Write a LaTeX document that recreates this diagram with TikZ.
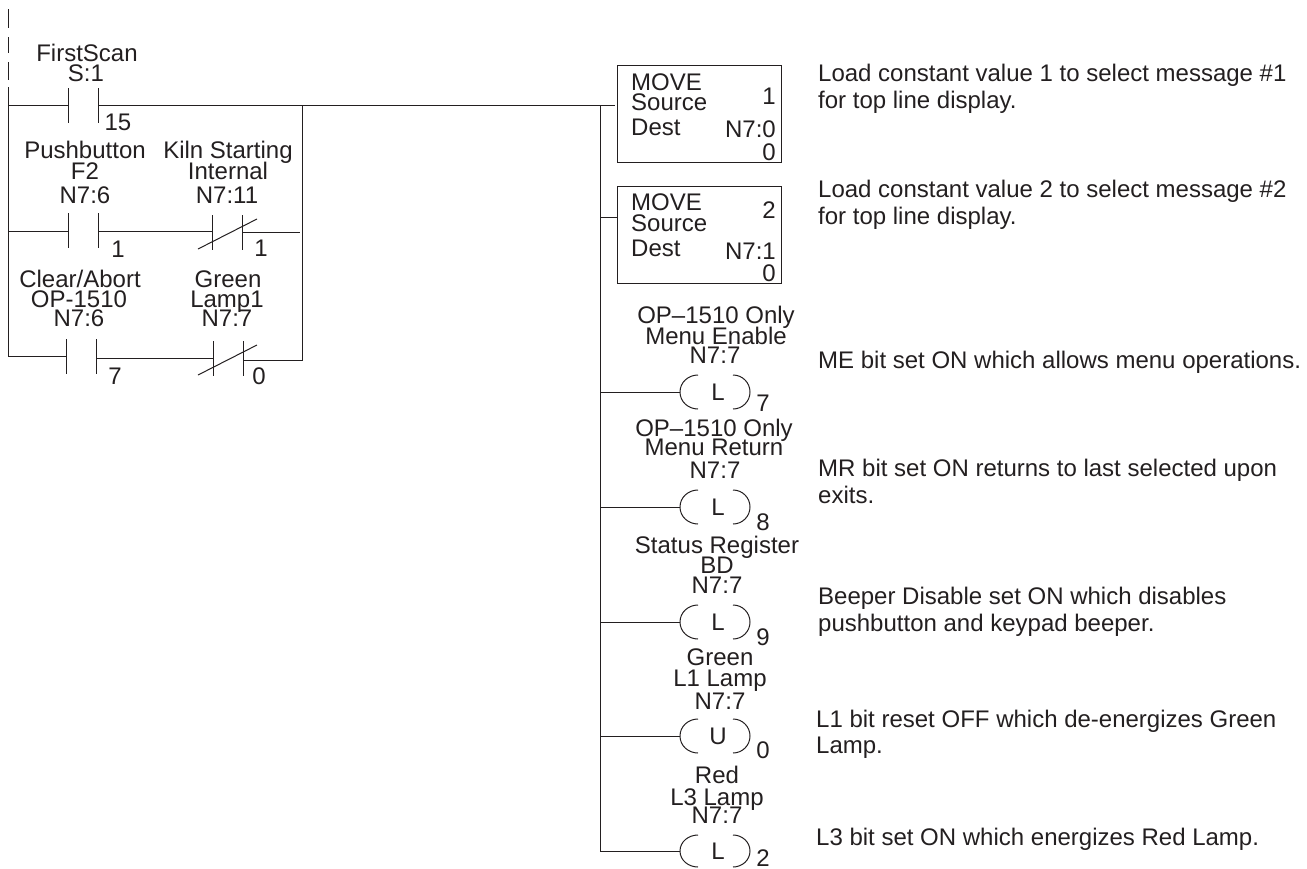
\documentclass[tikz,border=0pt]{standalone}
\usepackage{fontspec}
\setmainfont{Liberation Sans}
\definecolor{ink}{RGB}{35,31,32}
\begin{document}
\begin{tikzpicture}[
x=1pt,y=-1pt,
wire/.style={draw=ink,line width=1pt},
txt/.style={inner sep=0pt,text=ink,text height=17pt,text depth=0pt,font=\fontsize{24}{24}\selectfont},
note/.style={txt,anchor=west},
rightval/.style={txt,anchor=east},
movebox/.style={draw=ink,line width=1pt,minimum width=164.5pt,minimum height=97pt,inner sep=0pt}
]
\useasboundingbox (0,0) rectangle (1307,868);

% left rail
\coordinate (railA) at (8,9);
\coordinate (railB) at (8,28);
\coordinate (railC) at (8,37);
\coordinate (railD) at (8,53);
\coordinate (railE) at (8,62);
\coordinate (railF) at (8,80);
\coordinate (railG) at (8,87);

\path[wire] (railA) -- (railB);
\path[wire] (railC) -- (railD);
\path[wire] (railE) -- (railF);

% contacts
\coordinate (scanL) at (68,105);
\coordinate (scanR) at (98,105);
\coordinate (pushL) at (68,231);
\coordinate (pushR) at (98,231);
\coordinate (kilnL) at (212,232);
\coordinate (kilnR) at (242,232);
\coordinate (kilnEnd) at (300,232);
\coordinate (abortL) at (66,356);
\coordinate (abortR) at (96,358);
\coordinate (lampL) at (213,358);
\coordinate (lampR) at (243,360);
\coordinate (branch) at (302,105);
\coordinate (moveIn) at (615,105);
\coordinate (rail) at (600,105);

\path[wire] (railG) |- (scanL);
\path[wire] (railG) |- (pushL);
\path[wire] (railG) |- (abortL);
\path[wire] (scanR) -- (moveIn);
\path[wire] (pushR) -- (kilnL |- pushR);
\path[wire] (kilnR) -- (kilnEnd);
\path[wire] (abortR) -- (lampL);
\path[wire] (branch) |- (lampR);

\path[wire] (scanL) ++(0,-17) -- ++(0,35);
\path[wire] (scanR) ++(0,-17) -- ++(0,35);
\path[wire] (pushL) ++(0,-18) -- ++(0,35);
\path[wire] (pushR) ++(0,-18) -- ++(0,35);
\path[wire] (kilnL) ++(0,-17) -- ++(0,35);
\path[wire] (kilnR) ++(0,-17) -- ++(0,35);
\path[wire] (kilnL) ++(-14,17) -- ++(59,-30);
\path[wire] (abortL) ++(0,-17) -- ++(0,35);
\path[wire] (abortR) ++(0,-19) -- ++(0,35);
\path[wire] (lampL) ++(0,-17) -- ++(0,35);
\path[wire] (lampR) ++(0,-19) -- ++(0,35);
\path[wire] (lampL) ++(-15,17) -- ++(59,-30);

% contact labels
\node[txt] (scanA) at (87,53) {FirstScan};
\node[txt] (scanB) at (86,73) {S:1};
\node[txt] (scanC) at (118,122) {15};
\node[txt] (pushA) at (85,150) {Pushbutton};
\node[txt] (pushB) at (85,171) {F2};
\node[txt] (pushC) at (85,195) {N7:6};
\node[txt] (pushD) at (118,249) {1};
\node[txt] (kilnA) at (228,150) {Kiln Starting};
\node[txt] (kilnB) at (228,171) {Internal};
\node[txt] (kilnC) at (227,195) {N7:11};
\node[txt] (kilnD) at (261,248) {1};
\node[txt] (abortA) at (80,279) {Clear/Abort};
\node[txt] (abortB) at (79,299) {OP-1510};
\node[txt] (abortC) at (79,318) {N7:6};
\node[txt] (abortD) at (115,376) {7};
\node[txt] (lampA) at (228,279) {Green};
\node[txt] (lampB) at (227,299) {Lamp1};
\node[txt] (lampC) at (227,318) {N7:7};
\node[txt] (lampD) at (259,376) {0};

% move boxes
\node[movebox] (moveA) at (699.5,113.5) {};
\node[movebox] (moveB) at (699.5,234.5) {};
\coordinate (stubB) at (moveB.west |- 0,217);

\node[note] (moveAa) at (631,82) {MOVE};
\node[note] (moveAb) at (631,102) {Source};
\node[note] (moveAc) at (631,127) {Dest};
\node[rightval] (moveAd) at (776,96) {1};
\node[rightval] (moveAe) at (776,129) {N7:0};
\node[rightval] (moveAf) at (776,152) {0};
\node[note] (moveBa) at (631,202) {MOVE};
\node[note] (moveBb) at (631,223) {Source};
\node[note] (moveBc) at (631,248) {Dest};
\node[rightval] (moveBd) at (776,210) {2};
\node[rightval] (moveBe) at (776,251) {N7:1};
\node[rightval] (moveBf) at (776,273) {0};

% coils
\node[txt] (coilA) at (718,392) {L};
\node[txt] (coilB) at (718,507) {L};
\node[txt] (coilC) at (718,622) {L};
\node[txt] (coilD) at (718,736) {U};
\node[txt] (coilE) at (718,851) {L};
\coordinate (coilAw) at (680,392);
\coordinate (coilBw) at (680,507);
\coordinate (coilCw) at (680,622);
\coordinate (coilDw) at (680,736);
\coordinate (coilEw) at (680,851);

\path[wire] (rail) |- (stubB);
\path[wire] (rail) |- (coilAw);
\path[wire] (rail) |- (coilBw);
\path[wire] (rail) |- (coilCw);
\path[wire] (rail) |- (coilDw);
\path[wire] (rail) |- (coilEw);

\path[wire] (coilAw) ++(18,-17) to[out=180,in=90] ++(-18,17) to[out=-90,in=180] ++(18,17);
\path[wire] (coilAw) ++(53,-17) to[out=0,in=90] ++(17,17) to[out=-90,in=0] ++(-17,17);
\path[wire] (coilBw) ++(18,-17) to[out=180,in=90] ++(-18,17) to[out=-90,in=180] ++(18,17);
\path[wire] (coilBw) ++(53,-17) to[out=0,in=90] ++(17,17) to[out=-90,in=0] ++(-17,17);
\path[wire] (coilCw) ++(18,-17) to[out=180,in=90] ++(-18,17) to[out=-90,in=180] ++(18,17);
\path[wire] (coilCw) ++(53,-17) to[out=0,in=90] ++(17,17) to[out=-90,in=0] ++(-17,17);
\path[wire] (coilDw) ++(18,-17) to[out=180,in=90] ++(-18,17) to[out=-90,in=180] ++(18,17);
\path[wire] (coilDw) ++(53,-17) to[out=0,in=90] ++(17,17) to[out=-90,in=0] ++(-17,17);
\path[wire] (coilEw) ++(18,-16) to[out=180,in=90] ++(-18,16) to[out=-90,in=180] ++(18,16);
\path[wire] (coilEw) ++(53,-16) to[out=0,in=90] ++(17,16) to[out=-90,in=0] ++(-17,16);

% coil labels
\node[txt] (coilAa) at (716,315) {OP--1510 Only};
\node[txt] (coilAb) at (716,336) {Menu Enable};
\node[txt] (coilAc) at (715,355) {N7:7};
\node[txt] (coilAd) at (763,403) {7};
\node[txt] (coilBa) at (714,428) {OP--1510 Only};
\node[txt] (coilBb) at (714,447) {Menu Return};
\node[txt] (coilBc) at (715,470) {N7:7};
\node[txt] (coilBd) at (763,522) {8};
\node[txt] (coilCa) at (717,545) {Status Register};
\node[txt] (coilCb) at (717,565) {BD};
\node[txt] (coilCc) at (717,585) {N7:7};
\node[txt] (coilCd) at (763,637) {9};
\node[txt] (coilDa) at (720,657) {Green};
\node[txt] (coilDb) at (720,678) {L1 Lamp};
\node[txt] (coilDc) at (720,701) {N7:7};
\node[txt] (coilDd) at (763,750) {0};
\node[txt] (coilEa) at (717,775) {Red};
\node[txt] (coilEb) at (717,797) {L3 Lamp};
\node[txt] (coilEc) at (717,815) {N7:7};
\node[txt] (coilEd) at (763,857.5) {2};

% notes
\node[note] (noteAa) at (818,72.5) {Load constant value 1 to select message \#1};
\node[note] (noteAb) at (818,99.5) {for top line display.};
\node[note] (noteBa) at (818,188.5) {Load constant value 2 to select message \#2};
\node[note] (noteBb) at (818,215.5) {for top line display.};
\node[note] (noteC) at (818,359.5) {ME bit set ON which allows menu operations.};
\node[note] (noteDa) at (818,467.5) {MR bit set ON returns to last selected upon};
\node[note] (noteDb) at (818,494.5) {exits.};
\node[note] (noteEa) at (818,595.5) {Beeper Disable set ON which disables};
\node[note] (noteEb) at (818,622.5) {pushbutton and keypad beeper.};
\node[note] (noteFa) at (816,718.5) {L1 bit reset OFF which de-energizes Green};
\node[note] (noteFb) at (816,744.5) {Lamp.};
\node[note] (noteG) at (816,836.5) {L3 bit set ON which energizes Red Lamp.};

\end{tikzpicture}
\end{document}
